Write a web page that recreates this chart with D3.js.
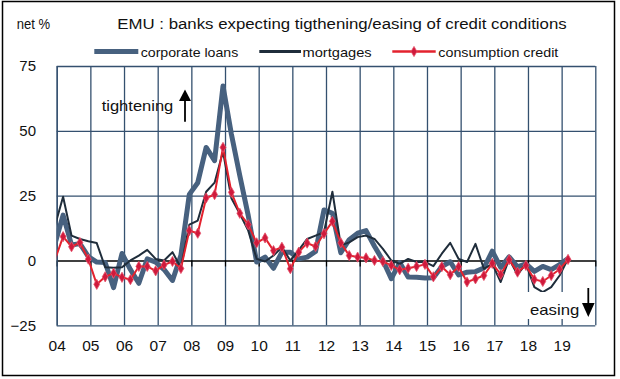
<!DOCTYPE html>
<html><head><meta charset="utf-8">
<script src="https://cdn.jsdelivr.net/npm/d3@7"></script>
<style>
body{margin:0;background:#fff}
svg{display:block}
text{font-family:"Liberation Sans",Arial,sans-serif;fill:#111}
</style>
</head><body>
<svg id="chart" width="620" height="379"></svg>
<script>
const quarters = [
  "2003Q4",
  "2004Q1","2004Q2","2004Q3","2004Q4",
  "2005Q1","2005Q2","2005Q3","2005Q4",
  "2006Q1","2006Q2","2006Q3","2006Q4",
  "2007Q1","2007Q2","2007Q3","2007Q4",
  "2008Q1","2008Q2","2008Q3","2008Q4",
  "2009Q1","2009Q2","2009Q3","2009Q4",
  "2010Q1","2010Q2","2010Q3","2010Q4",
  "2011Q1","2011Q2","2011Q3","2011Q4",
  "2012Q1","2012Q2","2012Q3","2012Q4",
  "2013Q1","2013Q2","2013Q3","2013Q4",
  "2014Q1","2014Q2","2014Q3","2014Q4",
  "2015Q1","2015Q2","2015Q3","2015Q4",
  "2016Q1","2016Q2","2016Q3","2016Q4",
  "2017Q1","2017Q2","2017Q3","2017Q4",
  "2018Q1","2018Q2","2018Q3","2018Q4",
  "2019Q1"
];
const corporateLoans = [
  6,
  17.5, 6, 6.5, 1.5,
  -0.6, -0.8, -10.5, 2.7,
  -3.5, -8.8, 0.6, -0.6,
  -3.5, -7.7, 2, 25.5,
  30, 43.6, 38.5, 67.3,
  48.7, 32.7, 17.3, -0.6,
  1.3, -3, 3.2, 3.2,
  0.6, 1.3, 3.5, 19.5,
  18.2, 3, 8, 10.5,
  11.5, 5.5, 0, -7,
  -0.8, -6.4, -6.5, -6.8,
  -6.7, -2.3, -0.5, -5.6,
  -4.5, -4.3, -2.9, 3.6,
  -2.7, 1.4, -2.5, -1.3,
  -4.2, -2.3, -3.5, -1.6,
  0.8
];
const mortgages = [
  13,
  24.6, 9.6, 8.3, 7.4,
  6.7, -2.6, -2.8, -2.6,
  0, 1.9, 4.1, 0.6,
  0, 3.2, -2.8, 13.8,
  15.4, 26.5, 30, 42,
  24, 18, 11.5, 0.6,
  -0.4, 1.9, 5.1, 0,
  4, 8.3, 9.6, 10.9,
  26.5, 5.8, 7, 9,
  9.6, 8.3, 4.5, 0,
  -1.3, 0.6, -0.6, -0.5,
  -2.2, 2.6, 6.8, 0.6,
  -0.6, 6.4, -3.2, -1.3,
  -8.3, 0.6, -5.5, -1.3,
  -10.3, -12.2, -10.3, -5.8,
  0.6
];
const consumptionCredit = [
  0,
  9.2, 5.3, 6.9, 0.5,
  -9.2, -6.3, -4.9, -6.5,
  -7.4, -2.3, -2.3, -4.0,
  -1.7, -0.4, -3.1, 11.5,
  10.5, 24.1, 25.4, 43.6,
  26.3, 18.2, 13.8, 6.8,
  8.7, 3.8, 5.1, -3.2,
  3.2, 6.7, 5.4, 10.3,
  15.1, 6.8, 1.9, 1.3,
  1.0, 0, -0.4, -1.9,
  -3.6, -3.0, -2.3, -1.5,
  -6.3, -2.4, -5.5, -2.4,
  -8.3, -7.1, -5.8, -1.1,
  -5.4, 0.3, -4.5, -1.9,
  -7.3, -8.1, -5.8, -3.4,
  0.4
];
const yearTicks = [2004,2005,2006,2007,2008,2009,2010,2011,2012,2013,2014,2015,2016,2017,2018,2019];
const yearLabels = ["04","05","06","07","08","09","10","11","12","13","14","15","16","17","18","19"];
const gridYears = [2004,2005,2006,2007,2008,2009,2010,2011,2012,2013,2014,2015,2016,2017,2018,2019,2020];
const yTicks = [-25, 0, 25, 50, 75];
const yGrid = [-25, 25, 50, 75];
const seriesNames = ["corporate loans", "mortgages", "consumption credit"];
const titleText = "EMU : banks expecting tigthening/easing of credit conditions";
const unitText = "net %";

const svg = d3.select("#chart");
const L = 56.7, R = 595.3, T = 66, B = 325.3;
const x = d3.scaleLinear().domain([2004, 2020]).range([L, R]);
const y = d3.scaleLinear().domain([-25, 75]).range([B, T]);
const gridColor = "#34506f";
const colCorp = "#47617f", colMort = "#1f2d3b", colCons = "#e3222e";

function qTime(q){ const yr = +q.slice(0,4), n = +q.slice(5); return yr + n/4 - 0.06; }

// outer frame
svg.append("rect").attr("x",2.5).attr("y",1.5).attr("width",612).attr("height",374)
  .attr("fill","none").attr("stroke","#000").attr("stroke-width",1.5);

// fitted text helper
function fitText(str, xPos, yBase, size, width, anchor){
  const t = svg.append("text").attr("x",xPos).attr("y",yBase).attr("font-size",size).text(str);
  if (width) t.attr("textLength",width).attr("lengthAdjust","spacingAndGlyphs");
  if (anchor) t.attr("text-anchor",anchor);
  return t;
}
fitText(unitText, 16.7, 29.3, 15, 33.3);
fitText(titleText, 117.3, 29.3, 15.5, 449.4);

// vertical gridlines
svg.append("g").attr("transform",`translate(0,${B})`)
  .call(d3.axisBottom(x).tickValues(gridYears).tickSize(-(B-T)).tickFormat(""))
  .call(g=>g.select(".domain").remove())
  .call(g=>g.selectAll("line").attr("stroke",gridColor).attr("stroke-width",1.3));
// horizontal gridlines
svg.append("g").attr("transform",`translate(${L},0)`)
  .call(d3.axisLeft(y).tickValues(yGrid).tickSize(-(R-L)).tickFormat(""))
  .call(g=>g.select(".domain").remove())
  .call(g=>g.selectAll("line").attr("stroke",gridColor).attr("stroke-width",1.3));

// zero axis with ticks
svg.append("g").attr("transform",`translate(0,${y(0)})`)
  .call(d3.axisBottom(x).tickValues(gridYears).tickSize(6).tickSizeOuter(0).tickFormat(""))
  .call(g=>g.select(".domain").attr("stroke","#000").attr("stroke-width",1.4))
  .call(g=>g.selectAll("line").attr("stroke","#000").attr("stroke-width",1.2));

// left axis labels
svg.append("g").attr("transform",`translate(${L},0)`)
  .call(d3.axisLeft(y).tickValues(yTicks).tickSize(0).tickPadding(20.7))
  .call(g=>g.select(".domain").attr("stroke",gridColor).attr("stroke-width",1.3))
  .call(g=>g.selectAll("text").attr("font-size",15).attr("fill","#111")
     .attr("font-family","'Liberation Sans',Arial,sans-serif"));

// bottom labels
svg.append("g").attr("transform",`translate(0,${B})`)
  .call(d3.axisBottom(x).tickValues(yearTicks).tickSize(0).tickFormat((d,i)=>yearLabels[i]))
  .call(g=>g.select(".domain").remove())
  .call(g=>g.selectAll("text").attr("font-size",15.5).attr("fill","#111").attr("y",26).attr("dy",0)
     .attr("font-family","'Liberation Sans',Arial,sans-serif"));

// clip
svg.append("clipPath").attr("id","plotclip").append("rect")
  .attr("x",L).attr("y",T-20).attr("width",R-L).attr("height",B-T+40);

const mk = arr => quarters.map((q,i)=>({t:qTime(q), v:arr[i]}));
const line = d3.line().x(d=>x(d.t)).y(d=>y(d.v));
const plot = svg.append("g").attr("clip-path","url(#plotclip)");

plot.append("path").datum(mk(corporateLoans)).attr("d",line).attr("fill","none")
  .attr("stroke",colCorp).attr("stroke-width",5).attr("stroke-linejoin","round");
plot.append("path").datum(mk(mortgages)).attr("d",line).attr("fill","none")
  .attr("stroke",colMort).attr("stroke-width",2).attr("stroke-linejoin","round");
plot.append("path").datum(mk(consumptionCredit)).attr("d",line).attr("fill","none")
  .attr("stroke",colCons).attr("stroke-width",2).attr("stroke-linejoin","round");
const sym = d3.symbol().type(d3.symbolDiamond).size(30);
plot.selectAll("path.mk").data(mk(consumptionCredit).filter(d=>d.t>=2004)).join("path")
  .attr("class","mk").attr("d",sym)
  .attr("transform",d=>`translate(${x(d.t)},${y(d.v)})`)
  .attr("fill","#cf1a3c").attr("stroke","#e6506a").attr("stroke-width",0.8);

// legend
const legendItems = [
  {name:seriesNames[0], x1:94.3, x2:138.3, tx:140.7, tw:97.6, col:colCorp, w:5},
  {name:seriesNames[1], x1:259.3, x2:301, tx:302.5, tw:69.2, col:colMort, w:3},
  {name:seriesNames[2], x1:392.3, x2:435.7, tx:438.3, tw:120, col:colCons, w:2.5, marker:true}
];
legendItems.forEach(it=>{
  svg.append("line").attr("x1",it.x1).attr("x2",it.x2).attr("y1",51.5).attr("y2",51.5)
    .attr("stroke",it.col).attr("stroke-width",it.w);
  if (it.marker) svg.append("path").attr("d",sym)
    .attr("transform",`translate(${(it.x1+it.x2)/2},51.5)`)
    .attr("fill","#cf1a3c").attr("stroke","#e6506a").attr("stroke-width",0.8);
  fitText(it.name, it.tx, 56.5, 13.5, it.tw);
});

// tightening annotation
fitText("tightening", 101.7, 111, 15, 71.6);
svg.append("line").attr("x1",185).attr("x2",185).attr("y1",100).attr("y2",121.7)
  .attr("stroke","#000").attr("stroke-width",1.8);
svg.append("path").attr("d","M185,89.5 L191,101 L179,101 Z").attr("fill","#000");

// easing annotation
svg.append("rect").attr("x",526.5).attr("y",292).attr("width",54).attr("height",27).attr("fill","#fff");
fitText("easing", 530, 314.7, 15, 49.3);
svg.append("line").attr("x1",588.3).attr("x2",588.3).attr("y1",288).attr("y2",305)
  .attr("stroke","#000").attr("stroke-width",1.8);
svg.append("path").attr("d","M582,303 L594.6,303 L588.3,317 Z").attr("fill","#000");
</script>
</body></html>
